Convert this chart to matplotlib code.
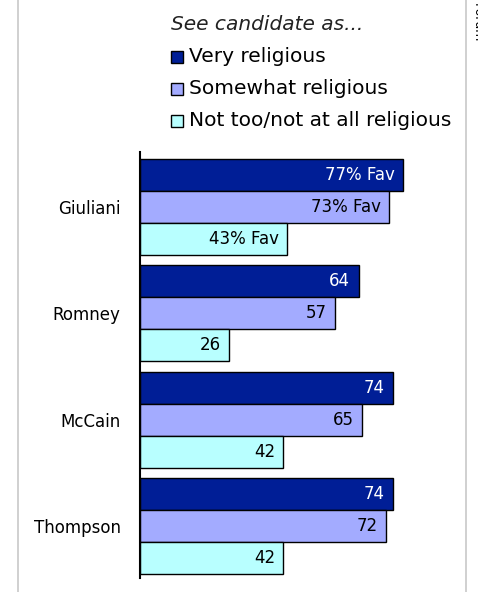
import numpy as np
import matplotlib.pyplot as plt
from matplotlib.patches import Rectangle
from matplotlib.lines import Line2D

# dati
candidati = ['Giuliani', 'Romney', 'McCain', 'Thompson']
serie = ['Very religious', 'Somewhat religious', 'Not too/not at all religious']
very = [77, 64, 74, 74]
somewhat = [73, 57, 65, 72]
not_too = [43, 26, 42, 42]
colori = ['#001E96', '#A3ABFF', '#B8FFFF']
colori_testo = ['white', 'black', 'black']

W, H = 478, 592
fig = plt.figure(figsize=(W/100, H/100), dpi=100)

# asse in coordinate pixel
ax = fig.add_axes([140/W, (H-578)/H, (465-140)/W, (578-152)/H])
y = np.arange(len(candidati))
h = 0.30
valori = [very, somewhat, not_too]
for k, vals in enumerate(valori):
    pos = y + (k-1)*h
    ax.barh(pos, vals, height=h, color=colori[k], edgecolor='black', linewidth=1)
    for i, v in enumerate(vals):
        lab = f"{v}% Fav" if i == 0 else str(v)
        ax.annotate(lab, (v, pos[i]), xytext=(-6, 0), textcoords='offset points',
                    ha='right', va='center', fontsize=12, color=colori_testo[k])

ax.set_xlim(0, 325/3.416)
ax.set_ylim(3.487, -0.513)
ax.set_yticks(y)
ax.set_yticklabels(candidati, fontsize=12)
ax.tick_params(axis='y', length=0, pad=14)
ax.set_xticks([])
for s in ['top', 'right', 'bottom']:
    ax.spines[s].set_visible(False)
ax.spines['left'].set_linewidth(1.5)

# legenda manuale
fig.text(171/W, 1-24/H, 'See candidate as...', style='italic', fontsize=14.5,
         ha='left', va='center', color='#222222')
for k, nome in enumerate(serie):
    yc = 57 + 32*k
    fig.add_artist(Rectangle((171/W, 1-(yc+6)/H), 12/W, 12/H, facecolor=colori[k],
                             edgecolor='black', linewidth=1, transform=fig.transFigure))
    fig.text(189/W, 1-yc/H, nome, fontsize=14.5, ha='left', va='center')

# bordi grigi
fig.add_artist(Line2D([18/W, 18/W], [0, 1], color='#C8C8C8', lw=1.2, transform=fig.transFigure))
fig.add_artist(Line2D([466/W, 466/W], [0, 1], color='#C8C8C8', lw=1.2, transform=fig.transFigure))
fig.text(471/W, 1-3/H, 'Forum', rotation=270, fontsize=9, ha='left', va='top')

fig.savefig('out.png', dpi=100)
